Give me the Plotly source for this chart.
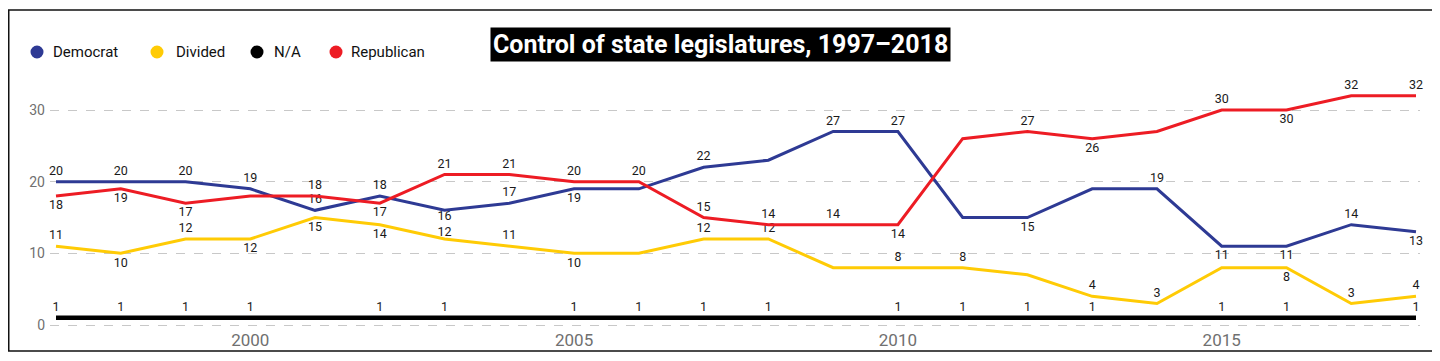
import plotly.graph_objects as go

# ---------------- data ----------------
years = [1997, 1998, 1999, 2000, 2001, 2002, 2003, 2004, 2005, 2006, 2007,
         2008, 2009, 2010, 2011, 2012, 2013, 2014, 2015, 2016, 2017, 2018]
democrat = [20, 20, 20, 19, 16, 18, 16, 17, 19, 19, 22, 23, 27, 27, 15, 15, 19, 19, 11, 11, 14, 13]
divided = [11, 10, 12, 12, 15, 14, 12, 11, 10, 10, 12, 12, 8, 8, 8, 7, 4, 3, 8, 8, 3, 4]
not_avail = [1, 1, 1, 1, 1, 1, 1, 1, 1, 1, 1, 1, 1, 1, 1, 1, 1, 1, 1, 1, 1, 1]
republican = [18, 19, 17, 18, 18, 17, 21, 21, 20, 20, 15, 14, 14, 14, 26, 27, 26, 27, 30, 30, 32, 32]

# label placement per point: a = above, b = below, - = hidden,
# A / B = above / below, set tight against the line
dem_lab = ["a", "a", "a", "a", "a", "a", "B", "a", "b", "-", "a", "-", "a", "a", "-", "b", "-", "a", "b", "b", "a", "b"]
rep_lab = ["b", "b", "b", "-", "a", "b", "a", "a", "a", "a", "a", "a", "a", "b", "-", "a", "b", "-", "a", "b", "a", "a"]
div_lab = ["a", "b", "a", "b", "b", "b", "A", "a", "b", "-", "a", "a", "-", "a", "a", "-", "a", "a", "-", "b", "a", "a"]
na_lab = ["a", "a", "a", "a", "-", "a", "a", "-", "a", "a", "a", "a", "-", "a", "a", "a", "a", "-", "a", "a", "-", "a"]

series_names = ["Democrat", "Divided", "N/A", "Republican"]
colors = {"Democrat": "#2E3A94", "Divided": "#FFCB05", "N/A": "#000000", "Republican": "#ED1C24"}

TITLE = "Control of state legislatures, 1997\u20132018"
x_tickvals = [2000, 2005, 2010, 2015]
x_ticktext = ["2000", "2005", "2010", "2015"]
y_tickvals = [0, 10, 20, 30]
y_ticktext = ["0", "10", "20", "30"]

# ---------------- layout geometry ----------------
# page body has an 8px margin, so figure coords = screen coords - 8
OFF = 8
W, H = 1440 - OFF, 361 - OFF
L, R, T, B = 50 - OFF, 20, 85 - OFF, 361 - 328
pw = W - L - R
ph = H - T - B


def px(x):  # screen px -> paper x
    return (x - OFF - L) / pw


def py(y):  # screen px -> paper y
    return (H - B - (y - OFF)) / ph


# x: 1997 -> 56px, 2018 -> 1416px (screen)
xs = (1416 - 56) / (2018 - 1997)
x_range = [1997 - (56 - 50) / xs, 2018 + (1420 - 1416) / xs]
# y: 0 -> 325px, 30 -> 110px (screen)
ys = (325 - 110) / 30
y_range = [-(328 - 325) / ys, (325 - 85) / ys]

FONT = "Roboto"

fig = go.Figure()


def add_series(name, vals, labs, width):
    col = colors[name]
    txt = [str(v) if p != "-" else "" for v, p in zip(vals, labs)]
    pos = ["top center" if p in ("a", "A") else "bottom center" for p in labs]
    msize = [0 if p in ("A", "B") else 4.5 for p in labs]
    fig.add_trace(go.Scatter(
        x=years, y=vals, mode="lines+markers+text", name=name,
        line=dict(color=col, width=width),
        marker=dict(size=msize, opacity=0, color=col),
        text=txt, textposition=pos, cliponaxis=False,
        textfont=dict(family=FONT, size=12.5, color="#1a1a1a"),
        showlegend=False, hoverinfo="x+y+name",
    ))


add_series("N/A", not_avail, na_lab, 4.5)
add_series("Divided", divided, div_lab, 3)
add_series("Democrat", democrat, dem_lab, 3)
add_series("Republican", republican, rep_lab, 3)

shapes = []
annotations = []

# outer frame
shapes.append(dict(type="rect", xref="paper", yref="paper",
                   x0=px(8.75), x1=px(1433), y0=py(351), y1=py(10),
                   line=dict(color="#111111", width=1.5), fillcolor="rgba(0,0,0,0)", layer="above"))

# legend (manual)
leg_circle_x = [37, 157, 257, 336]
leg_text_x = [51, 174, 272, 349]
leg_y = 52
rad = 6.5
for name, cx, tx in zip(series_names, leg_circle_x, leg_text_x):
    shapes.append(dict(type="circle", xref="paper", yref="paper",
                       x0=px(cx - rad), x1=px(cx + rad), y0=py(leg_y + rad), y1=py(leg_y - rad),
                       fillcolor=colors[name], line=dict(width=0)))
    annotations.append(dict(xref="paper", yref="paper", x=px(tx), y=py(leg_y),
                            xanchor="left", yanchor="middle", showarrow=False,
                            text=name, font=dict(family=FONT, size=15, color="#111111")))

# title box
annotations.append(dict(xref="paper", yref="paper", x=px(720), y=py(44.5),
                        xanchor="center", yanchor="middle", showarrow=False,
                        text="<b>" + TITLE + "</b>", bgcolor="#000000", borderpad=2,
                        font=dict(family=FONT, size=25, color="#ffffff")))

fig.update_layout(
    width=W, height=H,
    margin=dict(l=L, r=R, t=T, b=B),
    plot_bgcolor="#ffffff", paper_bgcolor="#ffffff",
    shapes=shapes, annotations=annotations,
    showlegend=False,
    xaxis=dict(range=x_range, tickvals=x_tickvals, ticktext=x_ticktext,
               showgrid=False, zeroline=False, showline=False, ticks="",
               tickfont=dict(family=FONT, size=17, color="#707070")),
    yaxis=dict(range=y_range, tickvals=y_tickvals, ticktext=y_ticktext,
               showgrid=True, gridcolor="#c8c8c8", griddash="dash", gridwidth=1,
               zeroline=False, showline=False, ticks="", ticklabelstandoff=4,
               tickfont=dict(family=FONT, size=14, color="#707070")),
)

fig.write_html("out.html")
